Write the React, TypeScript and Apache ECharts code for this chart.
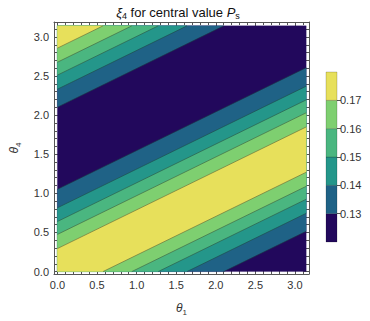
import React, { useEffect, useRef } from "react";
import * as echarts from "echarts";

// ---- data ----
const levels = [0.13, 0.14, 0.15, 0.16, 0.17];
const bandColors = ["#22085c", "#1f6286", "#24968a", "#4ab680", "#7ecf70", "#e7e05b"];
// θ4 intercept (at θ1 = 0) of each contour line, rising side and falling side
const risingEdge = [-1.04, -0.81, -0.63, -0.465, -0.285];
const fallingEdge = [1.052, 0.815, 0.64, 0.475, 0.294];
const contourSlope = 0.495;
const period = Math.PI;
const domainMax = Math.PI;
const axisTicks = [0, 0.5, 1, 1.5, 2, 2.5, 3];
const minorTicks = [
  0.1, 0.2, 0.3, 0.4, 0.6, 0.7, 0.8, 0.9, 1.1, 1.2, 1.3, 1.4, 1.6, 1.7, 1.8, 1.9,
  2.1, 2.2, 2.3, 2.4, 2.6, 2.7, 2.8, 2.9, 3.1,
];
const colorbarBounds = [0.12, 0.13, 0.14, 0.15, 0.16, 0.17, 0.18];

const xMin = -0.043;
const xMax = 3.177;
const yMin = -0.031;
const yMax = 3.191;

type P = [number, number];

function clipHalf(poly: P[], f: (p: P) => number): P[] {
  const out: P[] = [];
  for (let i = 0; i < poly.length; i++) {
    const a = poly[i];
    const b = poly[(i + 1) % poly.length];
    const fa = f(a);
    const fb = f(b);
    if (fa >= 0) out.push(a);
    if (fa >= 0 !== fb >= 0) {
      const t = fa / (fa - fb);
      out.push([a[0] + t * (b[0] - a[0]), a[1] + t * (b[1] - a[1])]);
    }
  }
  return out;
}

function bandPolygon(c1: number, c2: number): P[] {
  const box: P[] = [
    [0, 0],
    [domainMax, 0],
    [domainMax, domainMax],
    [0, domainMax],
  ];
  let poly = clipHalf(box, (p) => p[1] - contourSlope * p[0] - c1);
  poly = clipHalf(poly, (p) => c2 - (p[1] - contourSlope * p[0]));
  return poly;
}

const FONT = "'Liberation Sans', Arial, sans-serif";
const AX = "#555";
const LBL = "#333";

export default function App() {
  const ref = useRef<HTMLDivElement>(null);
  useEffect(() => {
    if (!ref.current) return;
    const chart = echarts.init(ref.current, undefined, { renderer: "svg" });

    const bandData: number[][] = [[0, -20, 20]];
    levels.forEach((_, k) => {
      [-period, 0, period].forEach((shift) => {
        bandData.push([k + 1, risingEdge[k] + shift, fallingEdge[k] + shift]);
      });
    });
    const lineData: number[][] = [];
    [-period, 0, period].forEach((shift) => {
      levels.forEach((_, k) => {
        lineData.push([k, risingEdge[k] + shift]);
        lineData.push([k, fallingEdge[k] + shift]);
      });
    });
    const cbData = bandColors.map((_, i) => [i, colorbarBounds[i], colorbarBounds[i + 1]]);

    const sub = {
      i: { fontStyle: "italic", fontSize: 12, lineHeight: 16, fontFamily: FONT, color: LBL },
      s: { fontSize: 8, lineHeight: 9, verticalAlign: "bottom", fontFamily: FONT, color: LBL },
    };

    const mkX = (pos: string, major: boolean, extra: any = {}) => ({
      type: "value",
      gridIndex: 0,
      position: pos,
      min: xMin,
      max: xMax,
      splitLine: { show: false },
      axisLine: { show: major, onZero: false, lineStyle: { color: AX, width: 1 } },
      axisTick: {
        show: true,
        inside: true,
        length: major ? 5 : 3,
        customValues: major ? axisTicks : minorTicks,
        lineStyle: { color: AX, width: 1 },
      },
      axisLabel: { show: false },
      ...extra,
    });
    const mkY = (pos: string, major: boolean, extra: any = {}) => ({
      type: "value",
      gridIndex: 0,
      position: pos,
      min: yMin,
      max: yMax,
      splitLine: { show: false },
      axisLine: { show: major, onZero: false, lineStyle: { color: AX, width: 1 } },
      axisTick: {
        show: true,
        inside: true,
        length: major ? 5 : 3,
        customValues: major ? axisTicks : minorTicks,
        lineStyle: { color: AX, width: 1 },
      },
      axisLabel: { show: false },
      ...extra,
    });

    chart.setOption({
      animation: false,
      textStyle: { fontFamily: FONT },
      grid: [
        { left: 46, top: 22, width: 263, height: 261 },
        { left: 326, top: 72, width: 11, height: 170 },
      ],
      xAxis: [
        mkX("bottom", true, {
          axisLabel: {
            show: true,
            customValues: axisTicks,
            formatter: (v: number) => v.toFixed(1),
            color: LBL,
            fontSize: 11,
            margin: 5,
          },
          name: "{i|θ}{s|1}",
          nameLocation: "middle",
          nameGap: 26,
          nameTextStyle: { rich: sub },
        }),
        mkX("bottom", false),
        mkX("top", true),
        mkX("top", false),
        { type: "value", gridIndex: 1, min: 0, max: 1, show: false },
      ],
      yAxis: [
        mkY("left", true, {
          axisLabel: {
            show: true,
            customValues: axisTicks,
            formatter: (v: number) => v.toFixed(1),
            color: LBL,
            fontSize: 11,
            margin: 5,
          },
          name: "{i|θ}{s|4}",
          nameLocation: "middle",
          nameGap: 32,
          nameRotate: 90,
          nameTextStyle: { rich: sub },
        }),
        mkY("left", false),
        mkY("right", true),
        mkY("right", false),
        {
          type: "value",
          gridIndex: 1,
          position: "right",
          min: colorbarBounds[0],
          max: colorbarBounds[colorbarBounds.length - 1],
          splitLine: { show: false },
          axisLine: { show: false, onZero: false },
          axisTick: {
            show: true,
            length: 4,
            customValues: levels,
            lineStyle: { color: AX, width: 1 },
          },
          axisLabel: {
            show: true,
            customValues: levels,
            formatter: (v: number) => v.toFixed(2),
            color: LBL,
            fontSize: 11,
            margin: 3,
          },
        },
      ],
      series: [
        {
          type: "custom",
          xAxisIndex: 0,
          yAxisIndex: 0,
          silent: true,
          data: bandData,
          renderItem: (_p: any, api: any) => {
            const ci = api.value(0);
            const poly = bandPolygon(api.value(1), api.value(2));
            if (poly.length < 3) return { type: "group", children: [] };
            return {
              type: "polygon",
              shape: { points: poly.map((p) => api.coord(p)) },
              style: { fill: bandColors[ci], stroke: bandColors[ci], lineWidth: 0.3 },
            };
          },
        },
        {
          type: "custom",
          xAxisIndex: 0,
          yAxisIndex: 0,
          silent: true,
          data: lineData,
          renderItem: (_p: any, api: any) => {
            const c = api.value(1);
            let lo = Math.max(0, (0 - c) / contourSlope);
            let hi = Math.min(domainMax, (domainMax - c) / contourSlope);
            if (!(lo < hi)) return { type: "group", children: [] };
            const a = api.coord([lo, c + contourSlope * lo]);
            const b = api.coord([hi, c + contourSlope * hi]);
            return {
              type: "line",
              shape: { x1: a[0], y1: a[1], x2: b[0], y2: b[1] },
              style: { stroke: "rgba(30,30,30,0.55)", lineWidth: 0.7 },
            };
          },
        },
        {
          type: "custom",
          xAxisIndex: 4,
          yAxisIndex: 4,
          silent: true,
          data: cbData,
          renderItem: (_p: any, api: any) => {
            const ci = api.value(0);
            const a = api.coord([0, api.value(1)]);
            const b = api.coord([1, api.value(2)]);
            return {
              type: "rect",
              shape: { x: a[0], y: b[1], width: b[0] - a[0], height: a[1] - b[1] },
              style: { fill: bandColors[ci], stroke: "rgba(0,0,0,0.3)", lineWidth: 0.6 },
            };
          },
        },
      ],
      graphic: [
        {
          type: "text",
          x: 178,
          y: 12,
          style: {
            text: "{i|ξ}{s|4}{n| for central value }{i|P}{s|s}",
            align: "center",
            verticalAlign: "middle",
            rich: {
              i: { fontStyle: "italic", fontSize: 13, lineHeight: 16, fontFamily: FONT, fill: "#111" },
              n: { fontSize: 13, lineHeight: 16, fontFamily: FONT, fill: "#111" },
              s: { fontSize: 9, lineHeight: 10, verticalAlign: "bottom", fontFamily: FONT, fill: "#111" },
            },
          },
        },
      ],
    });
    return () => chart.dispose();
  }, []);
  return (
    <div
      ref={ref}
      style={{ position: "fixed", left: 0, top: 0, width: 370, height: 321, background: "#fff" }}
    />
  );
}
